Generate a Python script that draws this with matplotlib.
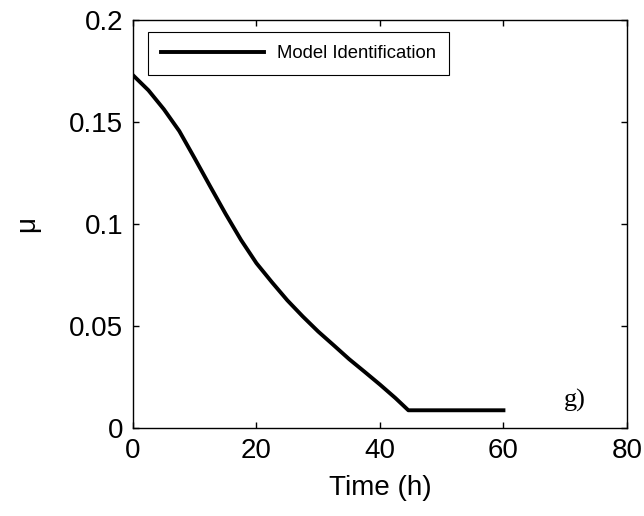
import numpy as np
import matplotlib
matplotlib.use("Agg")
import matplotlib.pyplot as plt

# values
t = [0, 2.5, 5, 7.5, 10, 12.5, 15, 17.5, 20, 22.5, 25, 27.5, 30,
     32.5, 35, 37.5, 40, 42.5, 44.6, 60]
mu = [0.173, 0.1656, 0.1563, 0.1456, 0.1322, 0.1185, 0.1050, 0.0922, 0.0808, 0.0715,
      0.0626, 0.0547, 0.0473, 0.0406, 0.0338, 0.0276, 0.0213, 0.0147, 0.0087, 0.0087]
xticks = [0, 20, 40, 60, 80]
yticks = [0, 0.05, 0.1, 0.15, 0.2]
yticklabels = ['0', '0.05', '0.1', '0.15', '0.2']

plt.rcParams['font.family'] = ['Liberation Sans', 'DejaVu Sans']

fig = plt.figure(figsize=(6.44, 5.16), dpi=100)
ax = fig.add_axes([0.2065, 0.1705, 0.767, 0.7905])

ax.plot(t, mu, color='k', lw=2.8, label='Model Identification')

ax.set_xlim(0, 80)
ax.set_ylim(0, 0.2)
ax.set_xticks(xticks)
ax.set_yticks(yticks)
ax.set_yticklabels(yticklabels)
ax.tick_params(direction='in', length=4, width=1, labelsize=20, top=True, right=True, pad=7)
for s in ax.spines.values():
    s.set_linewidth(1)

ax.set_xlabel('Time (h)', fontsize=20, labelpad=8)
ax.set_ylabel('μ', fontsize=20, labelpad=21)

ax.text(71.5, 0.0134, 'g)', fontsize=19, family='Liberation Serif', ha='center', va='center')

leg = ax.legend(loc='upper left', bbox_to_anchor=(0.03, 0.97), borderaxespad=0,
                fontsize=13.3, handlelength=5.6, handletextpad=0.7, borderpad=0.7,
                fancybox=False, framealpha=1, edgecolor='k')
leg.get_frame().set_linewidth(0.8)

fig.savefig('out.png', dpi=100)
